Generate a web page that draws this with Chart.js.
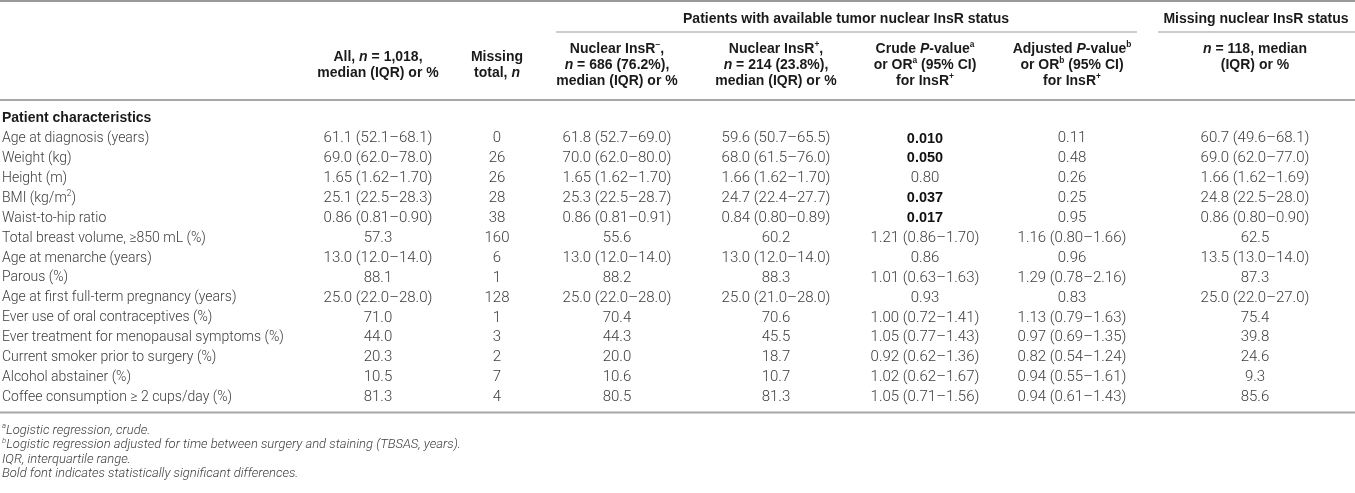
<!DOCTYPE html>
<html>
<head>
<meta charset="utf-8">
<script src="https://cdn.jsdelivr.net/npm/chart.js@4.4.0/dist/chart.umd.min.js"></script>
<style>
  html, body { margin: 0; padding: 0; background: #fff; }
  #wrap { position: relative; width: 1355px; height: 493px; }
</style>
</head>
<body>
<div id="wrap"><canvas id="tableChart"></canvas></div>
<script>
// *x* = italic, ^x^ = superscript
const rowLabels = ['Age at diagnosis (years)', 'Weight (kg)', 'Height (m)', 'BMI (kg/m^2^)', 'Waist-to-hip ratio',
  'Total breast volume, ≥850 mL (%)', 'Age at menarche (years)', 'Parous (%)', 'Age at first full-term pregnancy (years)',
  'Ever use of oral contraceptives (%)', 'Ever treatment for menopausal symptoms (%)', 'Current smoker prior to surgery (%)',
  'Alcohol abstainer (%)', 'Coffee consumption ≥ 2 cups/day (%)'];

const allPatients = ['61.1 (52.1–68.1)', '69.0 (62.0–78.0)', '1.65 (1.62–1.70)', '25.1 (22.5–28.3)', '0.86 (0.81–0.90)',
  '57.3', '13.0 (12.0–14.0)', '88.1', '25.0 (22.0–28.0)', '71.0', '44.0', '20.3', '10.5', '81.3'];
const missingTotal = ['0', '26', '26', '28', '38', '160', '6', '1', '128', '1', '3', '2', '7', '4'];
const nuclearNeg = ['61.8 (52.7–69.0)', '70.0 (62.0–80.0)', '1.65 (1.62–1.70)', '25.3 (22.5–28.7)', '0.86 (0.81–0.91)',
  '55.6', '13.0 (12.0–14.0)', '88.2', '25.0 (22.0–28.0)', '70.4', '44.3', '20.0', '10.6', '80.5'];
const nuclearPos = ['59.6 (50.7–65.5)', '68.0 (61.5–76.0)', '1.66 (1.62–1.70)', '24.7 (22.4–27.7)', '0.84 (0.80–0.89)',
  '60.2', '13.0 (12.0–14.0)', '88.3', '25.0 (21.0–28.0)', '70.6', '45.5', '18.7', '10.7', '81.3'];
const crudeP = ['0.010', '0.050', '0.80', '0.037', '0.017', '1.21 (0.86–1.70)', '0.86', '1.01 (0.63–1.63)', '0.93',
  '1.00 (0.72–1.41)', '1.05 (0.77–1.43)', '0.92 (0.62–1.36)', '1.02 (0.62–1.67)', '1.05 (0.71–1.56)'];
const crudeSignificant = [true, true, false, true, true, false, false, false, false, false, false, false, false, false];
const adjustedP = ['0.11', '0.48', '0.26', '0.25', '0.95', '1.16 (0.80–1.66)', '0.96', '1.29 (0.78–2.16)', '0.83',
  '1.13 (0.79–1.63)', '0.97 (0.69–1.35)', '0.82 (0.54–1.24)', '0.94 (0.55–1.61)', '0.94 (0.61–1.43)'];
const missingStatus = ['60.7 (49.6–68.1)', '69.0 (62.0–77.0)', '1.66 (1.62–1.69)', '24.8 (22.5–28.0)', '0.86 (0.80–0.90)',
  '62.5', '13.5 (13.0–14.0)', '87.3', '25.0 (22.0–27.0)', '75.4', '39.8', '24.6', '9.3', '85.6'];

const columnHeaders = [
  ['All, *n* = 1,018,', 'median (IQR) or %'],
  ['Missing', 'total, *n*'],
  ['Nuclear InsR^−^,', '*n* = 686 (76.2%),', 'median (IQR) or %'],
  ['Nuclear InsR^+^,', '*n* = 214 (23.8%),', 'median (IQR) or %'],
  ['Crude *P*-value^a^', 'or OR^a^ (95% CI)', 'for InsR^+^'],
  ['Adjusted *P*-value^b^', 'or OR^b^ (95% CI)', 'for InsR^+^'],
  ['*n* = 118, median', '(IQR) or %']
];
const groupHeaders = ['Patients with available tumor nuclear InsR status', 'Missing nuclear InsR status'];
const sectionLabel = 'Patient characteristics';
const footnotes = ['^a^Logistic regression, crude.',
  '^b^Logistic regression adjusted for time between surgery and staining (TBSAS, years).',
  'IQR, interquartile range.',
  'Bold font indicates statistically significant differences.'];

const columns = [allPatients, missingTotal, nuclearNeg, nuclearPos, crudeP, adjustedP, missingStatus];

// layout (x scale runs in canvas pixels)
const colX = [378, 497, 617, 776, 925, 1072, 1255];
const labelX = 2;
const LIGHT = 'Roboto, "Liberation Sans", Arial, sans-serif';
const HEAVY = '"Liberation Sans", Arial, Helvetica, sans-serif';
const LABEL = { size: 14, weight: 300, family: LIGHT, color: '#3c3c3c' };
const VALUE = { size: 15, weight: 300, family: LIGHT, color: '#3c3c3c' };
const VALUE_BOLD = { size: 14.5, weight: 700, family: HEAVY, color: '#111' };
const HEAD = { size: 14, weight: 700, family: HEAVY, color: '#1a1a1a' };
const FOOT = { size: 13, weight: 300, family: LIGHT, color: '#3c3c3c', italic: true };

function parseRich(s) {
  const runs = []; let italic = false, sup = false, buf = '';
  for (const ch of s) {
    if (ch === '*' || ch === '^') {
      if (buf) runs.push({ t: buf, italic, sup });
      buf = '';
      if (ch === '*') italic = !italic; else sup = !sup;
    } else buf += ch;
  }
  if (buf) runs.push({ t: buf, italic, sup });
  return runs;
}

function drawRich(ctx, s, x, y, align, st) {
  const runs = parseRich(s);
  const fontFor = r => (r.italic || st.italic ? 'italic ' : '') + st.weight + ' ' +
    (r.sup ? st.size * 0.6 : st.size) + 'px ' + st.family;
  let w = 0;
  runs.forEach(r => { ctx.font = fontFor(r); r.w = ctx.measureText(r.t).width; w += r.w; });
  let cx = align === 'center' ? x - w / 2 : (align === 'right' ? x - w : x);
  ctx.textAlign = 'left';
  ctx.textBaseline = 'middle';
  ctx.fillStyle = st.color;
  runs.forEach(r => {
    ctx.font = fontFor(r);
    ctx.fillText(r.t, cx, r.sup ? y - st.size * 0.32 : y);
    cx += r.w;
  });
}

function hLine(ctx, x1, x2, y, w, color) {
  ctx.save();
  ctx.strokeStyle = color;
  ctx.lineWidth = w;
  ctx.beginPath();
  ctx.moveTo(x1, y);
  ctx.lineTo(x2, y);
  ctx.stroke();
  ctx.restore();
}

const tablePlugin = {
  id: 'tableText',
  afterDatasetsDraw(chart) {
    const ctx = chart.ctx;
    const x = chart.scales.x, y = chart.scales.y;
    ctx.save();

    // cells, placed by the scales
    chart.data.datasets.forEach((ds, di) => {
      const meta = chart.getDatasetMeta(di);
      meta.data.forEach((el, i) => {
        const st = ds.boldRows && ds.boldRows[i] ? ds.boldStyle : ds.style;
        drawRich(ctx, ds.cellText[i], el.x, el.y, ds.align, st);
      });
    });

    // rules
    const left = x.getPixelForValue(0), right = x.getPixelForValue(1355);
    const lastRow = y.getPixelForValue(13);
    hLine(ctx, left, right, 1, 2, '#9a9a9a');
    hLine(ctx, x.getPixelForValue(556), x.getPixelForValue(1137), 32, 1.5, '#bdbdbd');
    hLine(ctx, x.getPixelForValue(1158), right, 32, 1.5, '#bdbdbd');
    hLine(ctx, left, right, 100, 2, '#a8a8a8');
    hLine(ctx, left, right, lastRow + 15, 2, '#a8a8a8');

    // group headers
    drawRich(ctx, groupHeaders[0], x.getPixelForValue(846), 19, 'center', HEAD);
    drawRich(ctx, groupHeaders[1], x.getPixelForValue(1256), 19, 'center', HEAD);

    // column headers
    const lineH = 16;
    columnHeaders.forEach((lines, c) => {
      const topAligned = c === 6;
      const y0 = lines.length === 3 || topAligned ? 49 : 57;
      lines.forEach((ln, k) => drawRich(ctx, ln, x.getPixelForValue(colX[c]), y0 + k * lineH, 'center', HEAD));
    });

    // footnotes
    const fy = lastRow + 33;
    footnotes.forEach((f, k) => drawRich(ctx, f, x.getPixelForValue(labelX), fy + k * 14.5, 'left', FOOT));
    ctx.restore();
  }
};

const datasets = [{
  label: 'Characteristic',
  data: [{ x: labelX, y: -1 }].concat(rowLabels.map((_, i) => ({ x: labelX, y: i }))),
  cellText: [sectionLabel].concat(rowLabels),
  boldRows: [true].concat(rowLabels.map(() => false)),
  style: LABEL,
  boldStyle: HEAD,
  align: 'left'
}].concat(columns.map((col, c) => ({
  label: 'col' + c,
  data: col.map((_, i) => ({ x: colX[c], y: i })),
  cellText: col,
  boldRows: c === 4 ? crudeSignificant : null,
  style: VALUE,
  boldStyle: VALUE_BOLD,
  align: 'center'
})));

datasets.forEach(ds => { ds.pointRadius = 0; ds.showLine = false; });

new Chart(document.getElementById('tableChart').getContext('2d'), {
  type: 'scatter',
  data: { datasets },
  plugins: [tablePlugin],
  options: {
    responsive: true,
    maintainAspectRatio: false,
    animation: false,
    events: [],
    layout: { padding: { top: 118.6, bottom: 95.5, left: 0, right: 0 } },
    plugins: { legend: { display: false }, tooltip: { enabled: false } },
    scales: {
      x: { type: 'linear', min: 0, max: 1355, display: false },
      y: { type: 'linear', min: -1, max: 13, reverse: true, display: false }
    }
  }
});
</script>
</body>
</html>
